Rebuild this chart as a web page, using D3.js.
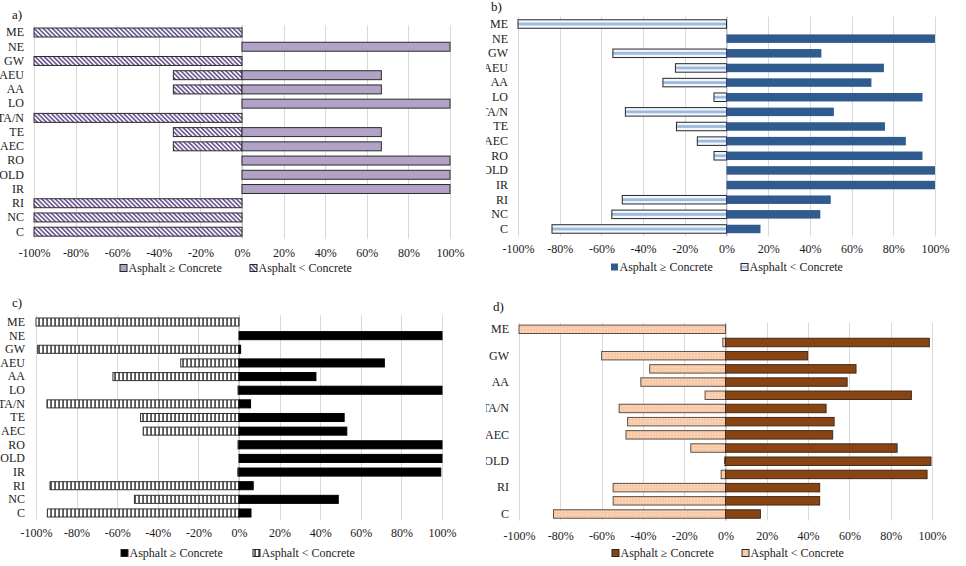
<!DOCTYPE html>
<html>
<head>
<meta charset="utf-8">
<script src="https://cdn.jsdelivr.net/npm/d3@7"></script>
<style>
  body { margin: 0; background: #fff; }
  svg text { font-family: "Times New Roman", "Liberation Serif", Tinos, "DejaVu Serif", serif; }
</style>
</head>
<body>
<svg id="chart" width="966" height="566"></svg>
<script>
// categories, top to bottom
const categories = ["ME", "NE", "GW", "AEU", "AA", "LO", "TA/N", "TE", "AEC", "RO", "OLD", "IR", "RI", "NC", "C"];
// panel d only labels every other category
const labelsD = ["ME", "GW", "AA", "TA/N", "AEC", "OLD", "RI", "C"];

const tickVals = [-1, -0.8, -0.6, -0.4, -0.2, 0, 0.2, 0.4, 0.6, 0.8, 1];

// shares (fraction of cases)
const geA = [0, 1, 0, 0.67, 0.67, 1, 0, 0.67, 0.67, 1, 1, 1, 0, 0, 0];
const ltA = [-1, 0, -1, -0.33, -0.33, 0, -1, -0.33, -0.33, 0, 0, 0, -1, -1, -1];

const geB = [0, 1, 0.455, 0.755, 0.695, 0.94, 0.515, 0.76, 0.86, 0.94, 1, 1, 0.50, 0.45, 0.163];
const ltB = [-1, 0, -0.545, -0.245, -0.305, -0.06, -0.485, -0.24, -0.14, -0.06, 0, 0, -0.50, -0.55, -0.837];

const geC = [0, 1, 0.008, 0.716, 0.379, 1, 0.057, 0.518, 0.531, 1, 1, 0.994, 0.07, 0.489, 0.059];
const ltC = [-1, 0, -0.992, -0.287, -0.621, -0.005, -0.946, -0.485, -0.472, -0.005, 0, -0.006, -0.931, -0.515, -0.944];

const geD = [0, 0.987, 0.398, 0.632, 0.589, 0.90, 0.487, 0.526, 0.519, 0.831, 0.995, 0.976, 0.456, 0.456, 0.169];
const ltD = [-1, -0.013, -0.60, -0.367, -0.41, -0.099, -0.515, -0.474, -0.482, -0.168, -0.005, -0.021, -0.544, -0.544, -0.833];

const legendNames = ["Asphalt \u2265 Concrete", "Asphalt < Concrete"];

const FONT = "'Times New Roman', 'Liberation Serif', Tinos, 'DejaVu Serif', serif";

var svg = d3.select("svg#chart");
var defs = svg.append("defs");

// hatch patterns for the "Asphalt < Concrete" series
var pa = defs.append("pattern").attr("id", "hatchA")
    .attr("patternUnits", "userSpaceOnUse").attr("width", 3.2).attr("height", 3.2)
    .attr("patternTransform", "rotate(-45)");
pa.append("rect").attr("width", 3.2).attr("height", 3.2).attr("fill", "#fff");
pa.append("rect").attr("width", 1.7).attr("height", 3.2).attr("fill", "#6f5c96");

var pb = defs.append("pattern").attr("id", "stripeB")
    .attr("patternUnits", "objectBoundingBox").attr("patternContentUnits", "objectBoundingBox")
    .attr("width", 1).attr("height", 1);
pb.append("rect").attr("width", 1).attr("height", 1).attr("fill", "#f4f8fc");
pb.append("rect").attr("y", 0.33).attr("width", 1).attr("height", 0.34).attr("fill", "#9dbbe0");

var pc = defs.append("pattern").attr("id", "stripeC")
    .attr("patternUnits", "userSpaceOnUse").attr("width", 4).attr("height", 4);
pc.append("rect").attr("width", 4).attr("height", 4).attr("fill", "#fff");
pc.append("rect").attr("x", 2.4).attr("width", 1.3).attr("height", 4).attr("fill", "#111");

var pd = defs.append("pattern").attr("id", "dotD")
    .attr("patternUnits", "userSpaceOnUse").attr("width", 3).attr("height", 3);
pd.append("rect").attr("width", 3).attr("height", 3).attr("fill", "#f8c9a6");
pd.append("circle").attr("cx", 1.5).attr("cy", 1.5).attr("r", 0.6).attr("fill", "#fde9da");

// one panel = a diverging bar chart
function drawPanel(p) {

  var clipId = "clip" + p.letter;
  defs.append("clipPath").attr("id", clipId)
    .append("rect").attr("x", p.clip[0]).attr("y", p.clip[1])
    .attr("width", p.clip[2]).attr("height", p.clip[3]);

  var g = svg.append("g").attr("clip-path", "url(#" + clipId + ")");

  var x = d3.scaleLinear().domain([-1, 1]).range(p.xr);
  var y = d3.scaleBand().domain(categories).range(p.yr)
      .paddingInner(p.pad).paddingOuter(p.pad / 2);

  // vertical gridlines
  g.append("g").selectAll("line")
    .data(tickVals)
    .enter().append("line")
    .attr("x1", d => Math.round(x(d)) + 0.5).attr("x2", d => Math.round(x(d)) + 0.5)
    .attr("y1", p.yr[0]).attr("y2", p.yr[1])
    .attr("stroke", "#d9d9d9").attr("stroke-width", 1);

  // zero line
  g.append("line")
    .attr("x1", x(0)).attr("x2", x(0))
    .attr("y1", p.yr[0]).attr("y2", p.yr[1])
    .attr("stroke", "#bfbfbf");

  var rows = categories.map((c, i) => ({ cat: c, ge: p.ge[i], lt: p.lt[i] }));

  // Asphalt < Concrete (left side)
  g.append("g").selectAll("rect")
    .data(rows.filter(d => d.lt < 0))
    .enter().append("rect")
    .attr("x", d => x(d.lt))
    .attr("y", d => y(d.cat))
    .attr("width", d => x(0) - x(d.lt))
    .attr("height", y.bandwidth())
    .attr("fill", p.ltFill)
    .attr("stroke", p.ltStroke).attr("stroke-width", 1);

  // Asphalt >= Concrete (right side)
  g.append("g").selectAll("rect")
    .data(rows.filter(d => d.ge > 0))
    .enter().append("rect")
    .attr("x", x(0))
    .attr("y", d => y(d.cat))
    .attr("width", d => x(d.ge) - x(0))
    .attr("height", y.bandwidth())
    .attr("fill", p.geFill)
    .attr("stroke", p.geStroke).attr("stroke-width", p.geStroke == "none" ? 0 : 1);

  // category labels
  var yaxis = d3.axisLeft(y).tickSize(0).tickPadding(0);
  if (p.labels) yaxis.tickValues(p.labels);
  g.append("g")
    .attr("transform", "translate(" + p.labelX + ",0)")
    .call(yaxis)
    .attr("font-family", FONT)
    .call(s => s.select(".domain").remove())
    .selectAll("text")
    .style("font-family", FONT).style("font-size", "12px").attr("fill", "#1a1a1a");

  // value axis labels
  g.append("g")
    .attr("transform", "translate(0," + (p.tickY - 8.5) + ")")
    .call(d3.axisBottom(x).tickValues(tickVals).tickSize(0).tickPadding(0)
          .tickFormat(d => Math.round(d * 100) + "%"))
    .attr("font-family", FONT)
    .call(s => s.select(".domain").remove())
    .selectAll("text")
    .style("font-family", FONT).style("font-size", "12px").attr("fill", "#1a1a1a");

  // panel letter
  g.append("text")
    .attr("x", p.letterPos[0]).attr("y", p.letterPos[1])
    .style("font-family", FONT).style("font-size", "13px").attr("fill", "#111")
    .text(p.letter + ")");

  // legend
  var fills = [[p.geFill, p.geStroke], [p.ltFill, p.ltStroke]];
  legendNames.forEach(function(name, i) {
    g.append("rect")
      .attr("x", p.legX[i]).attr("y", p.legY - 3.5)
      .attr("width", 7).attr("height", 7)
      .attr("fill", fills[i][0])
      .attr("stroke", fills[i][1] == "none" ? "none" : "#262626");
    g.append("text")
      .attr("x", p.legX[i] + 8.5).attr("y", p.legY + 4)
      .style("font-family", FONT).style("font-size", "12px").attr("fill", "#1a1a1a")
      .text(name);
  });
}

drawPanel({ letter: "a", clip: [0, 0, 483, 285], xr: [34, 450], yr: [25.4, 238.8], pad: 0.37,
  labelX: 24, tickY: 257, legY: 268, legX: [120, 250], letterPos: [12, 19],
  ge: geA, lt: ltA, geFill: "#b3a2c7", geStroke: "#2b2b2b", ltFill: "url(#hatchA)", ltStroke: "#2b2b2b" });

drawPanel({ letter: "b", clip: [486, 0, 480, 285], xr: [518, 935], yr: [16.7, 236.3], pad: 0.42,
  labelX: 508, tickY: 253, legY: 267, legX: [611, 741], letterPos: [491, 11],
  ge: geB, lt: ltB, geFill: "#2f5b8f", geStroke: "none", ltFill: "url(#stripeB)", ltStroke: "#262626" });

drawPanel({ letter: "c", clip: [0, 288, 483, 278], xr: [36, 442], yr: [315.2, 519.8], pad: 0.41,
  labelX: 25, tickY: 537, legY: 553, legX: [121, 253], letterPos: [12, 307],
  ge: geC, lt: ltC, geFill: "#000", geStroke: "#000", ltFill: "url(#stripeC)", ltStroke: "#333" });

drawPanel({ letter: "d", clip: [486, 288, 480, 278], xr: [519, 932], yr: [322.7, 520.6], pad: 0.36,
  labelX: 509, tickY: 540, legY: 553, legX: [612, 742], letterPos: [493, 311], labels: labelsD,
  ge: geD, lt: ltD, geFill: "#8a4411", geStroke: "#3d2a1c", ltFill: "url(#dotD)", ltStroke: "#5e5048" });
</script>
</body>
</html>
